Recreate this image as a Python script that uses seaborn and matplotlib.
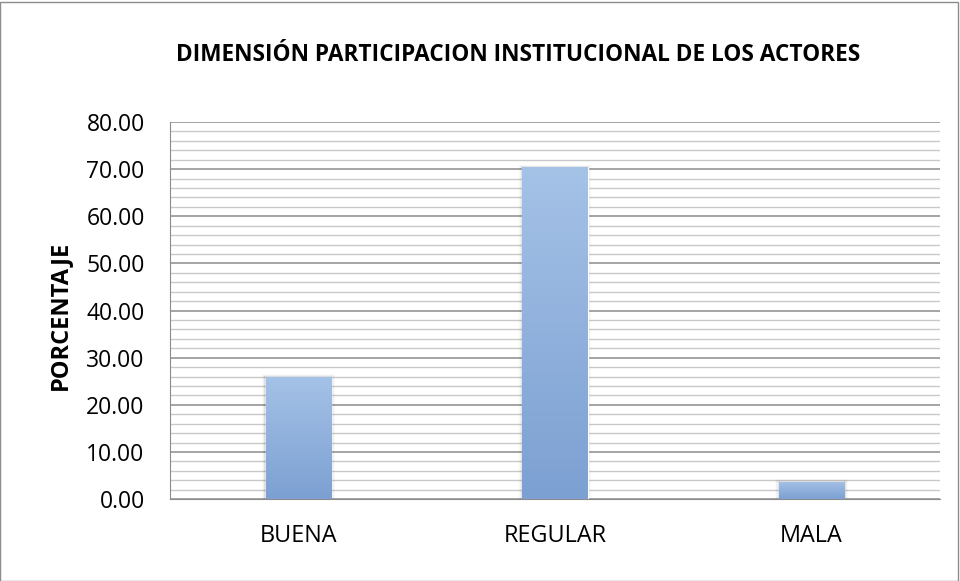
import numpy as np
import pandas as pd
import matplotlib
matplotlib.use("Agg")
import matplotlib.pyplot as plt
import seaborn as sns
from matplotlib.colors import LinearSegmentedColormap
from matplotlib.patches import Rectangle

categorias = ["BUENA", "REGULAR", "MALA"]
porcentajes = [25.93, 70.37, 3.70]
titulo = "DIMENSIÓN PARTICIPACION INSTITUCIONAL DE LOS ACTORES"
eje_y = "PORCENTAJE"

df = pd.DataFrame({"cat": categorias, "pct": porcentajes})

sns.set_style("white")
plt.rcParams["font.family"] = ["Open Sans", "DejaVu Sans"]
plt.rcParams["text.color"] = "black"
plt.rcParams["xtick.color"] = "black"
plt.rcParams["ytick.color"] = "black"

fig = plt.figure(figsize=(9.6, 5.81), dpi=100)
ax = fig.add_axes([0.177, 0.141, 0.802, 0.649])

ax = sns.barplot(data=df, x="cat", y="pct", color="#94B6E0", width=0.255, ax=ax,
                 saturation=1, zorder=3)

# degradado en cada barra
cmap = LinearSegmentedColormap.from_list("g", ["#7CA0D2", "#A5C2E7"])
grad = np.linspace(0, 1, 256).reshape(-1, 1)
for p in ax.patches:
    x0, y0 = p.get_x(), p.get_y()
    w, h = p.get_width(), p.get_height()
    # sombra suave
    for i, a in enumerate([0.07, 0.04, 0.02]):
        d = 0.005 * (i + 1)
        sh = Rectangle((x0 - d, y0), w + 2 * d, h + 0.2 * (i + 1),
                       facecolor="black", alpha=a, edgecolor="none", zorder=2.5)
        ax.add_patch(sh)
    im = ax.imshow(grad, extent=[x0, x0 + w, y0, y0 + h], origin="lower",
                   cmap=cmap, aspect="auto", zorder=4)
    im.set_clip_path(p)

ax.set_xlim(-0.5, 2.5)
ax.set_ylim(0, 80)
ax.set_yticks(np.arange(0, 81, 10))
ax.set_yticklabels([f"{v:.2f}" for v in np.arange(0, 81, 10)], fontsize=16.5)
ax.set_yticks(np.arange(0, 81, 2), minor=True)
ax.tick_params(axis="y", which="major", direction="out", length=7.2, width=1,
               color="#8C8C8C", labelcolor="black", pad=11)
ax.tick_params(axis="y", which="minor", length=0)
ax.tick_params(axis="x", length=0, labelsize=16.8, labelcolor="black", pad=18)
ax.grid(axis="y", which="major", color="#8C8C8C", linewidth=1.1, zorder=0)
ax.grid(axis="y", which="minor", color="#C8C8C8", linewidth=1.0, zorder=0)
ax.set_axisbelow(True)

for s in ["top", "right"]:
    ax.spines[s].set_visible(False)
ax.spines["left"].set_color("#8C8C8C")
ax.spines["bottom"].set_color("#8C8C8C")

ax.set_xlabel("")
ax.set_ylabel("")
fig.text(60 / 960, 0.458, eje_y, rotation=90, ha="center", va="center",
         fontsize=17, fontweight="bold", color="black")
fig.text(518 / 960, 0.905, titulo, ha="center", va="center", fontsize=16.3,
         fontweight="bold", color="black")

borde = Rectangle((0.0, 0.0), 0.998, 0.997, transform=fig.transFigure,
                  fill=False, edgecolor="#8C8C8C", linewidth=1)
fig.patches.append(borde)

fig.savefig("out.png", dpi=100)
